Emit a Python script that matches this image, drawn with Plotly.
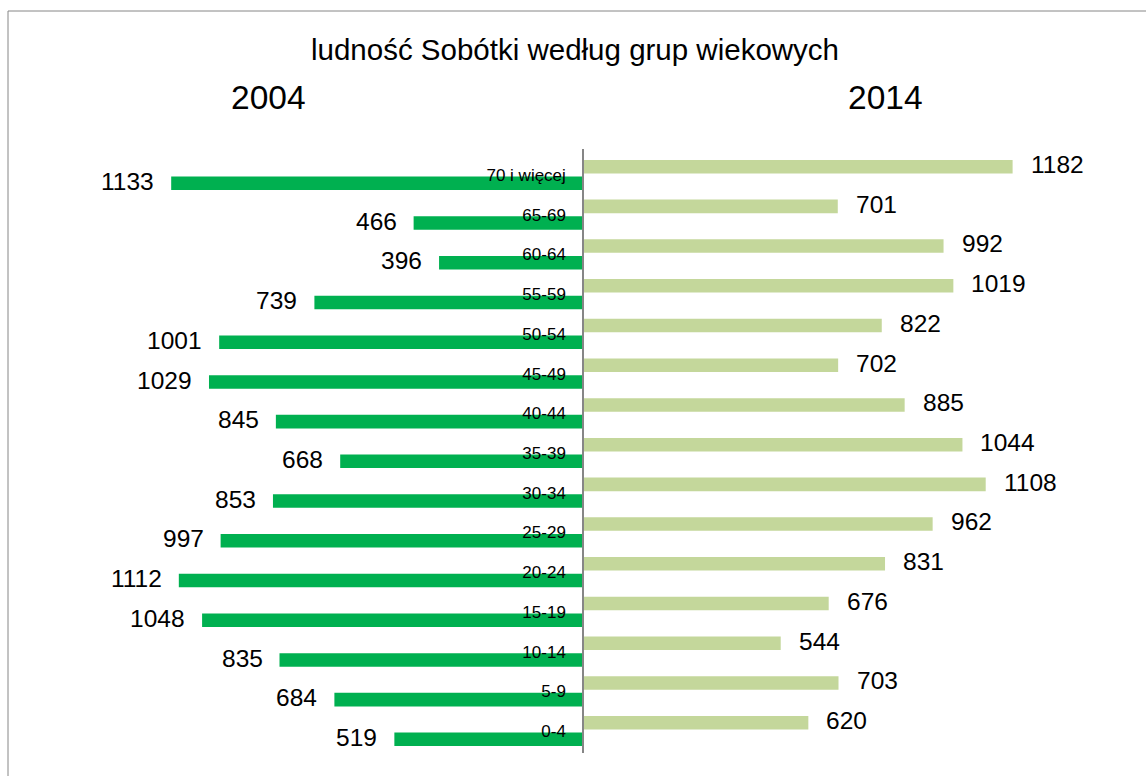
import plotly.graph_objects as go

categories = ["0-4", "5-9", "10-14", "15-19", "20-24", "25-29", "30-34", "35-39",
              "40-44", "45-49", "50-54", "55-59", "60-64", "65-69", "70 i więcej"]
pop_2004 = [519, 684, 835, 1048, 1112, 997, 853, 668, 845, 1029, 1001, 739, 396, 466, 1133]
pop_2014 = [620, 703, 544, 676, 831, 962, 1108, 1044, 885, 702, 822, 1019, 992, 701, 1182]
year_labels = ["2004", "2014"]
title_text = "ludność Sobótki według grup wiekowych"

FONT = "Liberation Sans, Arial, sans-serif"
DARK = "#00B050"
LIGHT = "#C4D79B"
GRAY = "#868686"

fig = go.Figure()
fig.add_trace(go.Bar(
    y=categories, x=[-v for v in pop_2004], orientation="h",
    marker=dict(color=DARK, line=dict(width=0)),
    offset=-0.38, width=0.34, name=year_labels[0], hoverinfo="skip",
))
fig.add_trace(go.Bar(
    y=categories, x=pop_2014, orientation="h",
    marker=dict(color=LIGHT, line=dict(width=0)),
    offset=0.04, width=0.34, name=year_labels[1], hoverinfo="skip",
))

annotations = []
for cat, v in zip(categories, pop_2004):
    annotations.append(dict(x=-v, y=cat, xref="x", yref="y", text=str(v),
                            showarrow=False, xanchor="right", yanchor="middle",
                            xshift=-15, yshift=-6.5,
                            font=dict(family=FONT, size=24.5, color="#000000")))
for cat, v in zip(categories, pop_2014):
    annotations.append(dict(x=v, y=cat, xref="x", yref="y", text=str(v),
                            showarrow=False, xanchor="left", yanchor="middle",
                            xshift=16, yshift=10.5,
                            font=dict(family=FONT, size=24.5, color="#000000")))

# year headers
annotations.append(dict(x=268 / 1146, y=(753 - 97) / 604, xref="paper", yref="paper",
                        text=year_labels[0], showarrow=False, xanchor="center", yanchor="middle",
                        font=dict(family=FONT, size=33.5, color="#000000")))
annotations.append(dict(x=885 / 1146, y=(753 - 97) / 604, xref="paper", yref="paper",
                        text=year_labels[1], showarrow=False, xanchor="center", yanchor="middle",
                        font=dict(family=FONT, size=33.5, color="#000000")))

fig.update_layout(
    width=1146, height=776,
    margin=dict(l=0, r=0, t=149, b=23, pad=0),
    paper_bgcolor="#FFFFFF", plot_bgcolor="#FFFFFF",
    barmode="overlay", showlegend=False,
    title=dict(text=title_text, x=575 / 1146, xanchor="center", xref="paper",
               y=1 - 50 / 776, yanchor="middle", yref="container",
               font=dict(family=FONT, size=29.5, color="#000000")),
    xaxis=dict(range=[-1604, 1549], visible=False, fixedrange=True),
    yaxis=dict(type="category", categoryorder="array", categoryarray=categories,
               anchor="free", position=583 / 1146, side="left",
               showline=True, linecolor=GRAY, linewidth=1.5,
               showgrid=False, zeroline=False, ticks="",
               ticklabelstandoff=13,
               tickfont=dict(family=FONT, size=17, color="#000000"),
               fixedrange=True),
    annotations=annotations,
    shapes=[dict(type="rect", xref="paper", yref="paper",
                 x0=8 / 1146, x1=1.05, y0=-0.2, y1=(753 - 11) / 604,
                 line=dict(color=GRAY, width=1), fillcolor="rgba(0,0,0,0)", layer="below")],
)

fig.write_html("out.html", config={"displayModeBar": False},
               post_script="document.body.style.margin='0';document.body.style.overflow='hidden';")
